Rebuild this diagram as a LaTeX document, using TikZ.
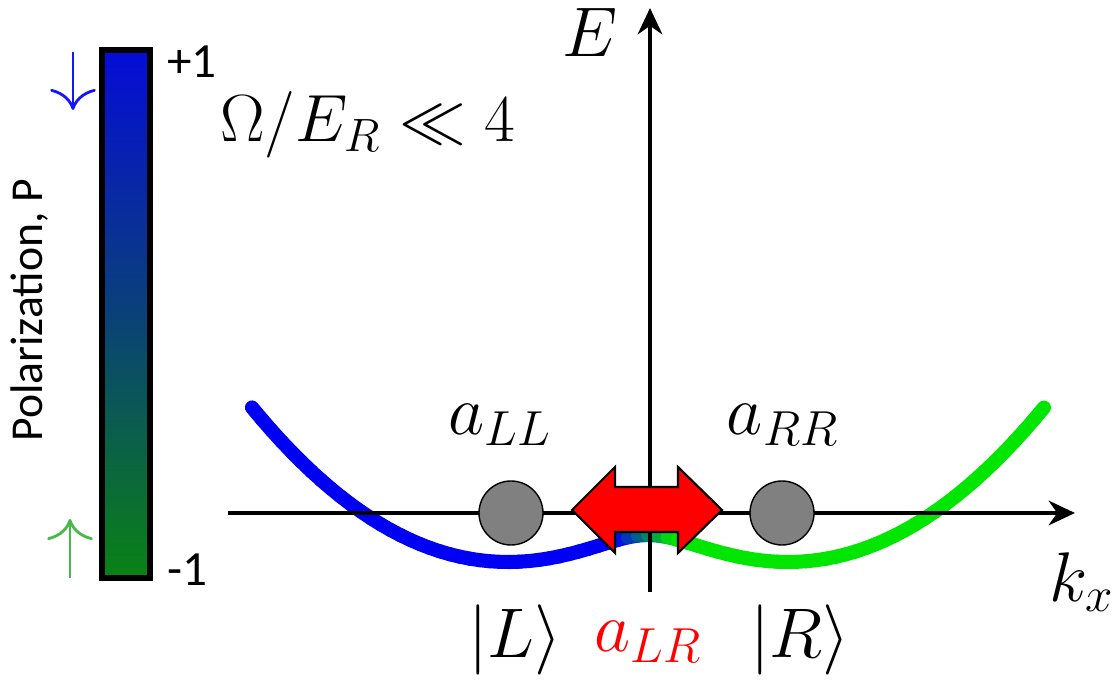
\RequirePackage{fix-cm}
\documentclass[tikz,border=0pt]{standalone}
\usepackage{amsmath}
\usepackage{amssymb}
\usepackage{fontspec}
\setsansfont{Carlito}
\usetikzlibrary{arrows.meta}
\definecolor{wellblue}{RGB}{0,0,245}
\definecolor{wellgreen}{RGB}{0,230,0}
\definecolor{bartop}{RGB}{5,12,215}
\definecolor{barmid}{RGB}{10,65,120}
\definecolor{barbot}{RGB}{10,130,20}
\definecolor{spinblue}{RGB}{20,20,255}
\definecolor{spingreen}{RGB}{70,185,70}

\begin{document}
\begin{tikzpicture}[
    axis/.style={line width=1.2pt,-{Stealth[length=7.5pt,width=7pt]}},
    atom/.style={circle,draw,thin,fill=gray,minimum size=0.64cm,inner sep=0pt},
    lab/.style={font=\fontsize{20}{24}\selectfont},
    tick/.style={font=\sffamily\fontsize{14}{16}\selectfont,anchor=west},
    spin/.style={line width=0.8pt,-{To[length=6pt,width=13pt]}}]
  \useasboundingbox (-6.50,-1.69) rectangle (4.62,5.13);

  % colour bar
  \shade[top color=bartop,bottom color=barbot,middle color=barmid]
    (-5.48,-0.65) rectangle (-5.00,4.63);
  \draw[line width=1.7pt] (-5.48,-0.65) rectangle (-5.00,4.63);
  \node[tick] (plus) at (-4.95,4.51) {+1};
  \node[tick] (minus) at (-4.95,-0.57) {-1};
  \node[rotate=90,font=\sffamily\fontsize{13}{15}\selectfont] (pol) at (-6.20,2.03) {Polarization, P};
  \draw[spin,spinblue] (-5.77,4.61) -- (-5.77,4.03);
  \draw[spin,spingreen] (-5.80,-0.65) -- (-5.80,-0.06);

  \node[lab,font=\fontsize{19}{23}\selectfont] (omega) at (-2.82,3.88) {$\Omega/E_R \ll 4$};

  % lower band
  \foreach \i in {0,...,79}{
    \pgfmathsetmacro\ka{-2.72+\i*0.068}
    \pgfmathsetmacro\kb{\ka+0.068}
    \pgfmathsetmacro\p{max(0,min(100,50-250*(\ka+0.034)))}
    \draw[line width=4pt,line cap=round,wellblue!\p!wellgreen]
      ({-0.02+1.456*\ka},{-0.49+0.514*(\ka*\ka-sqrt(4*\ka*\ka+0.3025)+1.0756)})
      -- ({-0.02+1.456*\kb},{-0.49+0.514*(\kb*\kb-sqrt(4*\kb*\kb+0.3025)+1.0756)});
  }

  % axes
  \draw[axis] (-4.22,0) -- (4.25,0);
  \draw[axis] (0,-0.79) -- (0,5.05);
  \node[lab] (E) at (-0.60,4.81) {$E$};
  \node[lab] (kx) at (4.32,-0.69) {$k_x$};

  % tunnelling arrow
  \draw[fill=red,line width=0.6pt] (-0.78,0.03) -- (-0.35,0.46) -- (-0.35,0.26)
    -- (0.28,0.26) -- (0.28,0.46) -- (0.72,0.03) -- (0.28,-0.40) -- (0.28,-0.19)
    -- (-0.35,-0.19) -- (-0.35,-0.40) -- cycle;

  \node[atom] (L) at (-1.39,0) {};
  \node[atom] (R) at (1.32,0) {};
  \node[lab] (aLL) at (-1.50,0.88) {$a_{LL}$};
  \node[lab] (aRR) at (1.33,0.88) {$a_{RR}$};
  \node[lab] (ketL) at (-1.35,-1.27) {$|L\rangle$};
  \node[lab,red] (aLR) at (-0.02,-1.29) {$a_{LR}$};
  \node[lab] (ketR) at (1.50,-1.27) {$|R\rangle$};
\end{tikzpicture}
\end{document}
